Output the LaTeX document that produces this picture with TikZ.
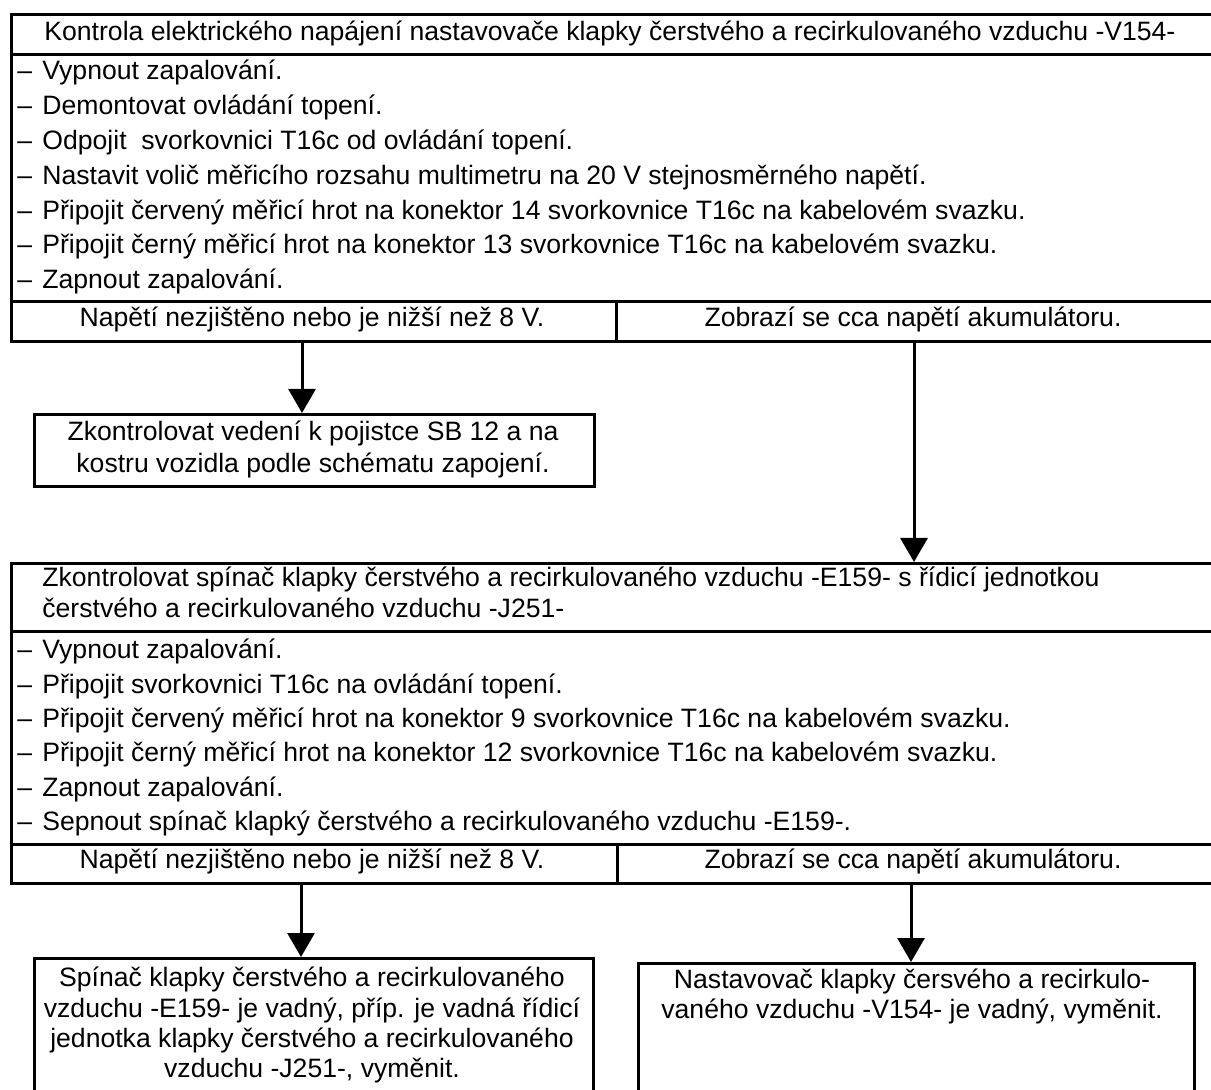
\documentclass[tikz,border=0pt]{standalone}
\usepackage{fontspec}
\setmainfont{Liberation Sans}
\usetikzlibrary{arrows.meta}
\newcommand\dashitem{\makebox[12.5pt][l]{–}}
\begin{document}
\begin{tikzpicture}[x=0.5pt,y=-0.5pt,
  cell/.style={draw, line width=1.7pt, anchor=north west, inner sep=0pt},
  txt/.style={inner sep=0pt, font=\fontsize{13.3}{15}\selectfont},
  arr/.style={line width=1.5pt, -{Triangle[width=13.5pt,length=12pt]}}]
\useasboundingbox (0,0) rectangle (1211,1090);
\fill[white] (0,0) rectangle (1211,1090);
% ---- first test block
\node[cell, minimum width=601.5pt, minimum height=20pt] (t1) at (10,13) {};
\node[cell, minimum width=601.5pt, minimum height=123.5pt] (s1) at (10,53) {};
\node[cell, minimum width=302.5pt, minimum height=20pt] (o1l) at (10,300) {};
\node[cell, minimum width=299pt, minimum height=20pt] (o1r) at (615,300) {};
\node[txt, anchor=base west] (t1x) at (44,41) {Kontrola elektrického napájení nastavovače klapky čerstvého a recirkulovaného vzduchu -V154-};
\foreach \t [count=\i] in {
  {Vypnout zapalování.},
  {Demontovat ovládání topení.},
  {Odpojit\ \ svorkovnici T16c od ovládání topení.},
  {Nastavit volič měřicího rozsahu multimetru na 20 V stejnosměrného napětí.},
  {Připojit červený měřicí hrot na konektor 14 svorkovnice T16c na kabelovém svazku.},
  {Připojit černý měřicí hrot na konektor 13 svorkovnice T16c na kabelovém svazku.},
  {Zapnout zapalování.}}
  \node[txt, anchor=base west] (sa\i) at (17,{45.2+34.8*\i}) {\dashitem\t};
\node[txt, anchor=base] (o1lx) at (312,327) {Napětí nezjištěno nebo je nižší než 8 V.};
\node[txt, anchor=base] (o1rx) at (913,327) {Zobrazí se cca napětí akumulátoru.};
% ---- wiring check box
\node[cell, minimum width=280pt, minimum height=36pt] (ved) at (33,413) {};
\node[txt, anchor=base] (vedx1) at (313,441) {Zkontrolovat vedení k pojistce SB 12 a na};
\node[txt, anchor=base] (vedx2) at (313,473) {kostru vozidla podle schématu zapojení.};
% ---- second test block
\node[cell, minimum width=601.5pt, minimum height=34pt] (t2) at (10,562) {};
\node[cell, minimum width=601.5pt, minimum height=106.5pt] (s2) at (10,630) {};
\node[cell, minimum width=303pt, minimum height=19.5pt] (o2l) at (10,843) {};
\node[cell, minimum width=298.5pt, minimum height=19.5pt] (o2r) at (616,843) {};
\node[txt, anchor=base west] (t2x1) at (42,587) {Zkontrolovat spínač klapky čerstvého a recirkulovaného vzduchu -E159- s řídicí jednotkou};
\node[txt, anchor=base west] (t2x2) at (42,618) {čerstvého a recirkulovaného vzduchu -J251-};
\foreach \t [count=\i] in {
  {Vypnout zapalování.},
  {Připojit svorkovnici T16c na ovládání topení.},
  {Připojit červený měřicí hrot na konektor 9 svorkovnice T16c na kabelovém svazku.},
  {Připojit černý měřicí hrot na konektor 12 svorkovnice T16c na kabelovém svazku.},
  {Zapnout zapalování.},
  {Sepnout spínač klapký čerstvého a recirkulovaného vzduchu -E159-.}}
  \node[txt, anchor=base west] (sb\i) at (17,{624.7+34.3*\i}) {\dashitem\t};
\node[txt, anchor=base] (o2lx) at (312,869) {Napětí nezjištěno nebo je nižší než 8 V.};
\node[txt, anchor=base] (o2rx) at (913,869) {Zobrazí se cca napětí akumulátoru.};
% ---- result boxes
\node[cell, minimum width=279.5pt, minimum height=69pt] (r1) at (33,957) {};
\node[cell, minimum width=278pt, minimum height=66.5pt] (r2) at (637,962) {};
\node[txt, anchor=base] (r1x1) at (312,986) {Spínač klapky čerstvého a recirkulovaného};
\node[txt, anchor=base] (r1x2) at (312,1017) {vzduchu -E159- je vadný, příp. je vadná řídicí};
\node[txt, anchor=base] (r1x3) at (312,1047) {jednotka klapky čerstvého a recirkulovaného};
\node[txt, anchor=base] (r1x4) at (312,1077) {vzduchu -J251-, vyměnit.};
\node[txt, anchor=base] (r2x1) at (912,988) {Nastavovač klapky čersvého a recirkulo-};
\node[txt, anchor=base] (r2x2) at (912,1018) {vaného vzduchu -V154- je vadný, vyměnit.};
% ---- connectors
\coordinate (a1) at (302,0);
\coordinate (a2) at (914,0);
\coordinate (a3) at (301,0);
\coordinate (a4) at (911,0);
\draw[arr] (o1l.south -| a1) -- (ved.north -| a1);
\draw[arr] (o1r.south -| a2) -- (t2.north -| a2);
\draw[arr] (o2l.south -| a3) -- (r1.north -| a3);
\draw[arr] (o2r.south -| a4) -- (r2.north -| a4);
\end{tikzpicture}
\end{document}
